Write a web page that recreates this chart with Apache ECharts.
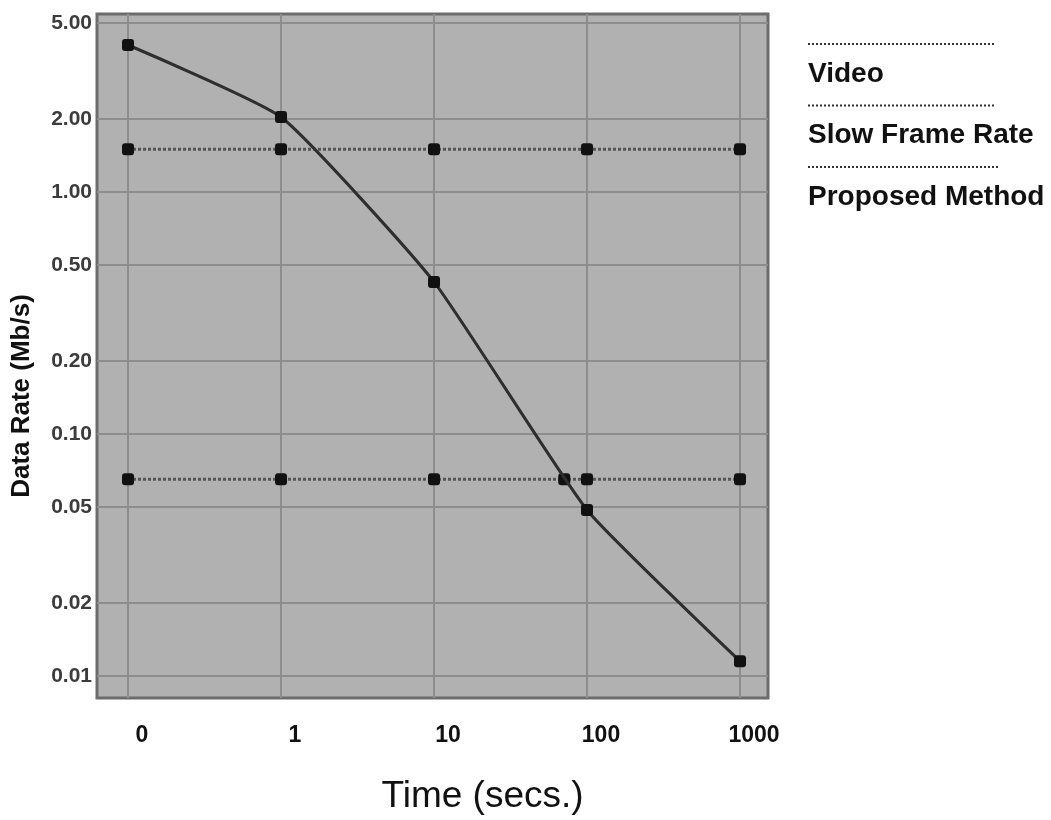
<!DOCTYPE html>
<html>
<head>
<meta charset="utf-8">
<script src="https://cdn.jsdelivr.net/npm/echarts@6/dist/echarts.min.js"></script>
<style>
  html, body { margin: 0; padding: 0; background: #ffffff; }
  #chart { width: 1051px; height: 820px; }
</style>
</head>
<body>
<div id="chart"></div>
<script>
// ---- data ----
// "0" on the time axis sits one decade left of 1, so it is plotted at 0.1
const timeTicks = [0.1, 1, 10, 100, 1000];
const timeLabels = ['0', '1', '10', '100', '1000'];
const rateTicks = [0.01, 0.02, 0.05, 0.1, 0.2, 0.5, 1, 2, 5];

const legendNames = ['Video', 'Slow Frame Rate', 'Proposed Method'];

const videoTimes = [0.1, 1, 10, 100, 1000];
const videoRates = [1.5, 1.5, 1.5, 1.5, 1.5];

const slowTimes = [0.1, 1, 10, 71, 100, 1000];
const slowRates = [0.065, 0.065, 0.065, 0.065, 0.065, 0.065];

const proposedTimes = [0.1, 1, 10, 100, 1000];
const proposedRates = [4.05, 2.04, 0.425, 0.0485, 0.0115];

function pairs(xs, ys) { return xs.map((x, i) => [x, ys[i]]); }

const chart = echarts.init(document.getElementById('chart'), null, { renderer: 'canvas' });

const markerStyle = { color: '#111111' };

const option = {
  animation: false,
  backgroundColor: '#ffffff',
  grid: {
    left: 97, top: 14, right: 283, bottom: 122,
    show: true,
    backgroundColor: '#b1b1b1',
    borderColor: '#6c6c6c',
    borderWidth: 3
  },
  xAxis: {
    type: 'log',
    logBase: 10,
    min: 0.0627,
    max: 1524,
    name: 'Time (secs.)',
    nameLocation: 'middle',
    nameGap: 80,
    nameTextStyle: { fontFamily: 'Liberation Sans, Arial, sans-serif', fontSize: 37, color: '#111', padding: [0, 0, 0, 100] },
    axisLine: { show: false },
    axisTick: { show: false, customValues: timeTicks },
    axisLabel: {
      customValues: timeTicks,
      margin: 26,
      padding: [0, 0, 0, 28],
      fontFamily: 'Liberation Sans, Arial, sans-serif',
      fontWeight: 'bold',
      fontSize: 23,
      color: '#111',
      formatter: function (v) {
        const i = timeTicks.findIndex(t => Math.abs(Math.log10(t) - Math.log10(v)) < 1e-6);
        return i >= 0 ? timeLabels[i] : '';
      }
    },
    splitLine: { show: true, lineStyle: { color: '#8d8d8d', width: 2 } }
  },
  yAxis: {
    type: 'log',
    logBase: 10,
    min: 0.0081,
    max: 5.44,
    name: 'Data Rate (Mb/s)',
    nameLocation: 'middle',
    nameGap: 62,
    nameRotate: 90,
    nameTextStyle: { fontFamily: 'Liberation Sans, Arial, sans-serif', fontWeight: 'bold', fontSize: 26, color: '#111', padding: [0, 80, 0, 0] },
    axisLine: { show: false },
    axisTick: { show: false, customValues: rateTicks },
    axisLabel: {
      customValues: rateTicks,
      margin: 5,
      fontFamily: 'Liberation Sans, Arial, sans-serif',
      fontWeight: 'bold',
      fontSize: 21,
      color: '#3c3c3c',
      formatter: function (v) { return Number(v).toFixed(2); }
    },
    splitLine: { show: true, lineStyle: { color: '#8d8d8d', width: 2 } }
  },
  series: [
    {
      name: legendNames[0],
      type: 'line',
      data: pairs(videoTimes, videoRates),
      symbol: 'roundRect',
      symbolSize: 12,
      itemStyle: markerStyle,
      lineStyle: { color: '#555555', width: 3, type: [3, 2] },
      z: 3
    },
    {
      name: legendNames[1],
      type: 'line',
      data: pairs(slowTimes, slowRates),
      symbol: 'roundRect',
      symbolSize: 12,
      itemStyle: markerStyle,
      lineStyle: { color: '#555555', width: 3, type: [3, 2] },
      z: 3
    },
    {
      name: legendNames[2],
      type: 'line',
      data: pairs(proposedTimes, proposedRates),
      smooth: 0.15,
      symbol: 'roundRect',
      symbolSize: 12,
      itemStyle: markerStyle,
      lineStyle: { color: '#2e2e2e', width: 3 },
      z: 4
    }
  ],
  graphic: legendNames.map(function (name, i) {
    const top = 44 + i * 61.5;
    return {
      type: 'group',
      children: [
        {
          type: 'line',
          shape: { x1: 808, y1: top, x2: 996 + (i === 2 ? 4 : 0), y2: top },
          style: { stroke: '#333', lineWidth: 2, lineDash: [2, 2] }
        },
        {
          type: 'text',
          x: 808,
          y: top + 30,
          style: {
            text: name,
            fontFamily: 'Liberation Sans, Arial, sans-serif',
            fontWeight: 'bold',
            fontSize: 28,
            fill: '#111',
            verticalAlign: 'middle',
            align: 'left'
          }
        }
      ]
    };
  })
};

chart.setOption(option);
</script>
</body>
</html>
